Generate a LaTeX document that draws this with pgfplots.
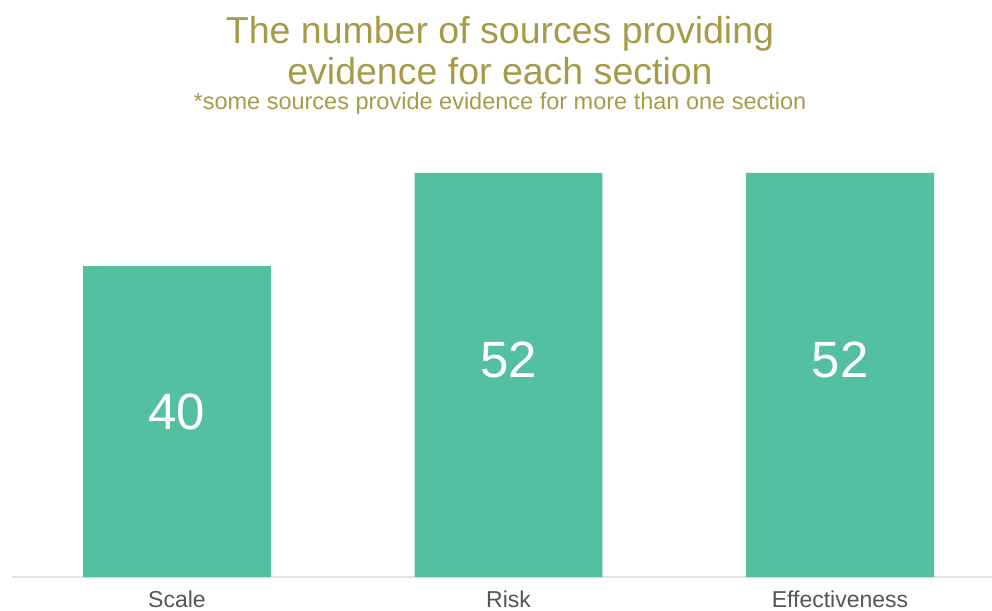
\documentclass[border=0pt]{standalone}
\usepackage{pgfplots}
\pgfplotsset{compat=1.18}
\usepackage{fontspec}
\setmainfont{Liberation Sans}
\definecolor{barc}{HTML}{53C0A0}
\definecolor{titc}{HTML}{A89B48}
\definecolor{labc}{HTML}{555555}
\definecolor{linec}{HTML}{E2E2E2}
\begin{document}
\begin{tikzpicture}
\useasboundingbox (-12pt,-33pt) rectangle (980pt,577pt);
\begin{axis}[
  scale only axis,
  width=980pt, height=404pt,
  xmin=-0.4977, xmax=2.4585,
  ymin=0, ymax=52,
  axis x line*=bottom,
  axis y line=none,
  x axis line style={draw=linec, line width=1.2pt, -},
  xtick=data,
  xticklabels={Scale,Risk,Effectiveness},
  major tick length=0pt,
  xticklabel style={font=\fontsize{23}{26}\selectfont, text=labc, anchor=base, yshift=-30pt},
  ytick=\empty,
  clip=false,
]
\addplot[ybar, bar width=0.567, fill=barc, draw=none] coordinates {(0,40) (1,52) (2,52)};
\node[text=white, font=\fontsize{51}{55}\selectfont] at (axis cs:0,21.2) {40};
\node[text=white, font=\fontsize{51}{55}\selectfont] at (axis cs:1,27.9) {52};
\node[text=white, font=\fontsize{51}{55}\selectfont] at (axis cs:2,27.9) {52};
\end{axis}
\node[text=titc, font=\fontsize{37.5}{40}\selectfont] at (488pt,543pt) {The number of sources providing};
\node[text=titc, font=\fontsize{37.5}{40}\selectfont] at (488pt,506pt) {evidence for each section};
\node[text=titc, font=\fontsize{23.5}{26}\selectfont] at (488pt,474pt) {*some sources provide evidence for more than one section};
\end{tikzpicture}
\end{document}
